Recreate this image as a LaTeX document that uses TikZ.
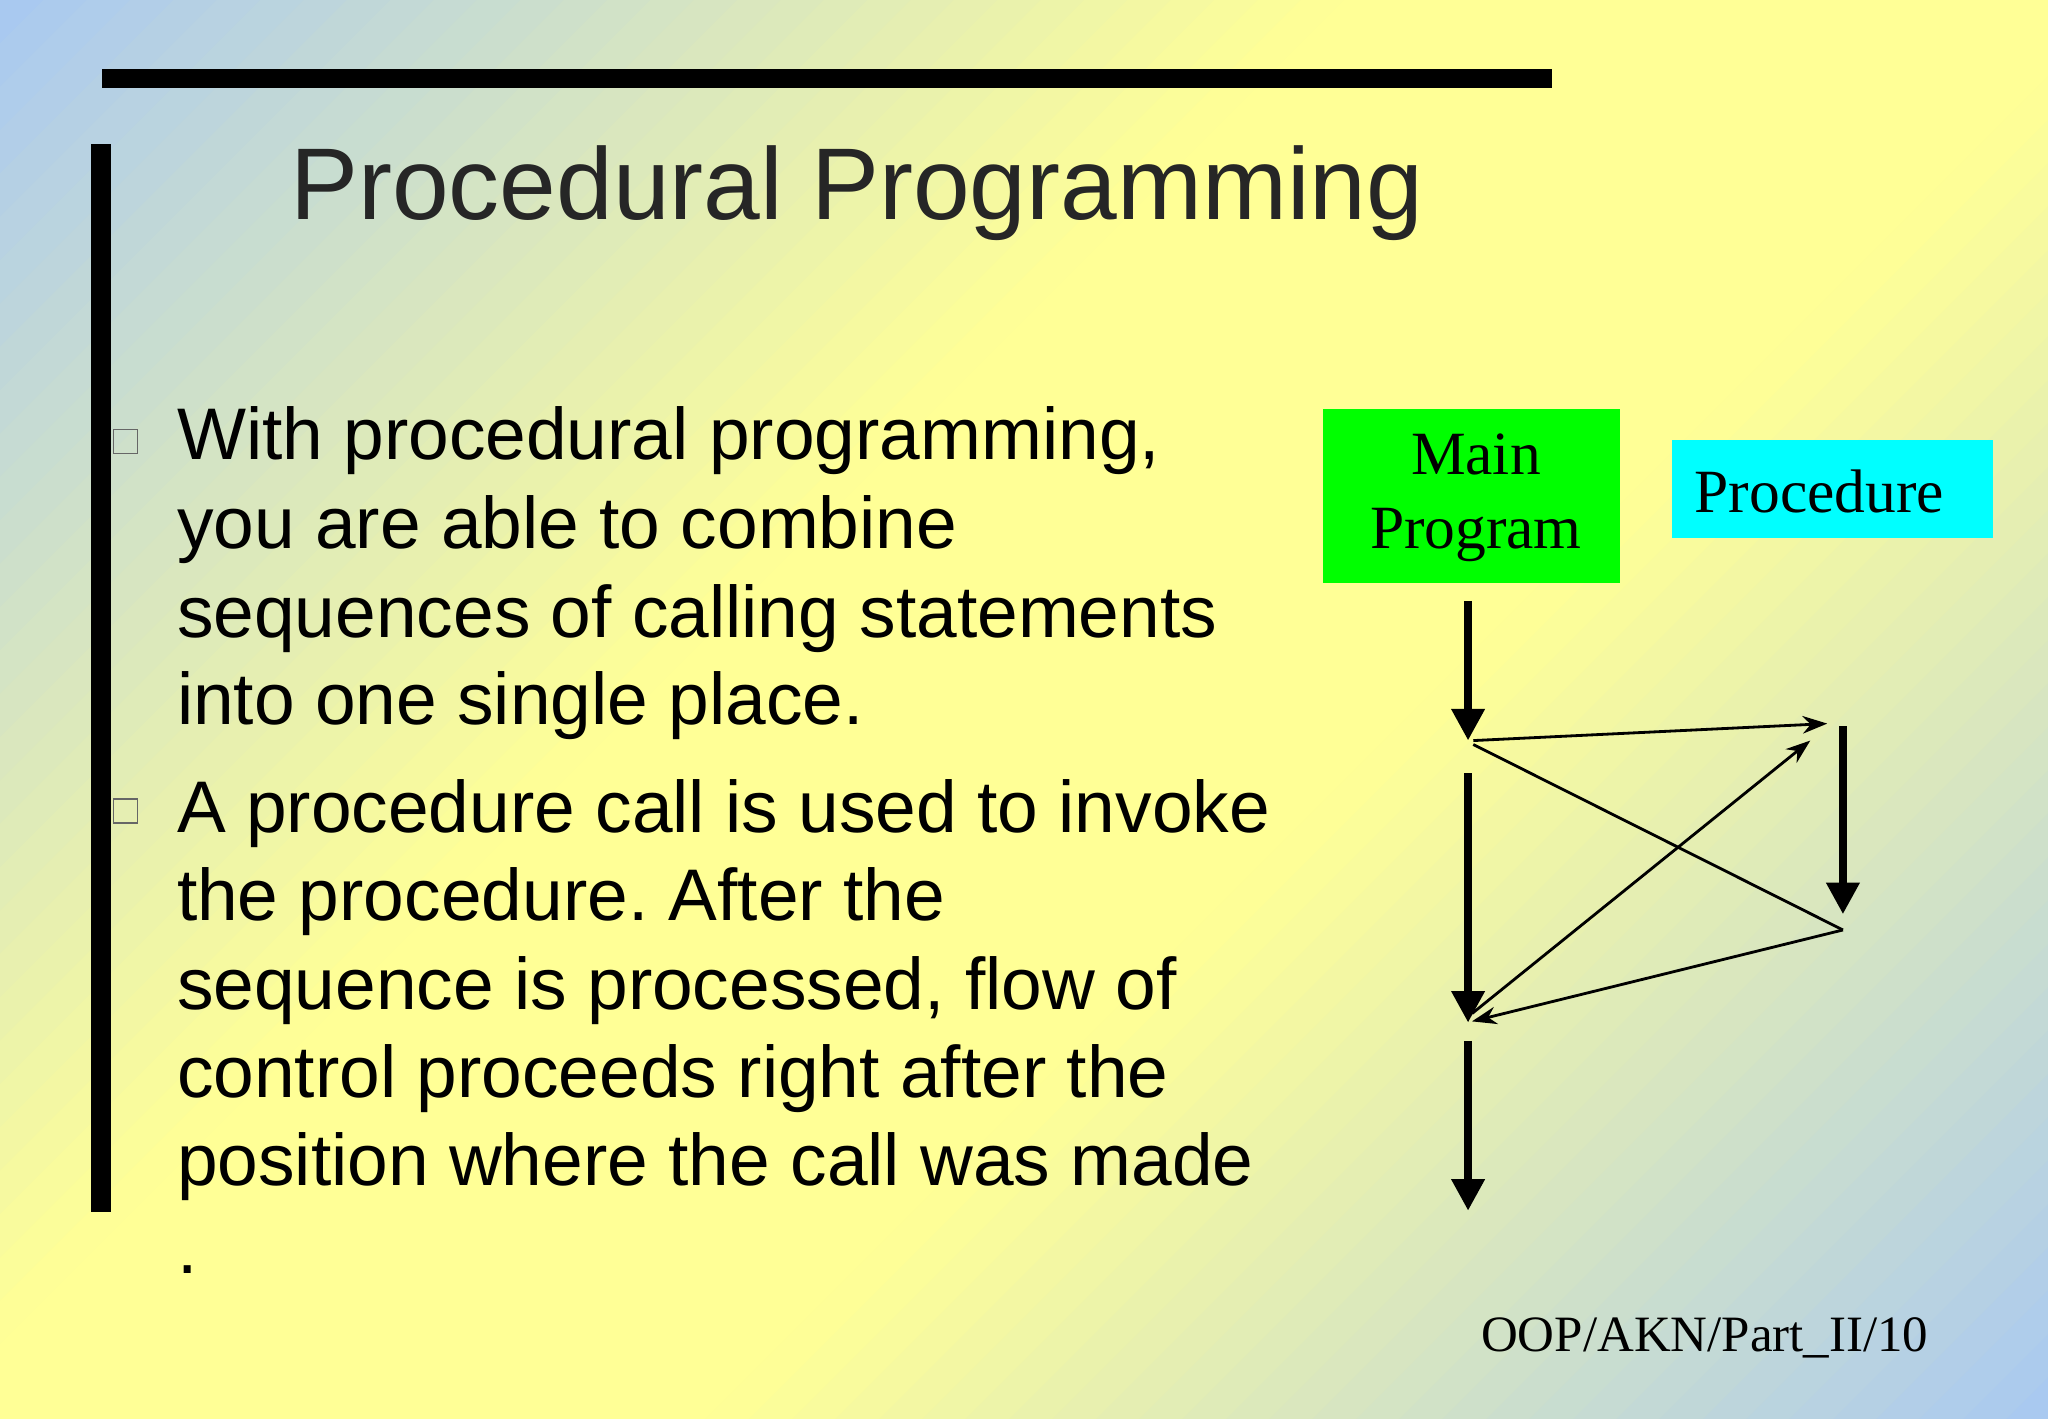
\documentclass[tikz,border=0pt]{standalone}
\usepackage{fontspec}
\setmainfont{Liberation Serif}
\setsansfont{Liberation Sans}
\usetikzlibrary{arrows.meta}
\frenchspacing

\definecolor{slideblue}{RGB}{168,200,242}
\definecolor{slideyellow}{RGB}{255,255,150}
\definecolor{boxgreen}{RGB}{0,255,0}
\definecolor{boxcyan}{RGB}{0,255,255}

\tikzset{
  bigarrow/.style={line width=2.3pt,-{Triangle[length=9pt,width=9pt]}},
  thinarrow/.style={line width=0.8pt,-{Stealth[length=7pt,width=5pt]}},
  bodyline/.style={anchor=base west,inner sep=0pt,font=\sffamily\fontsize{20.8}{24}\selectfont},
  boxlabel/.style={font=\fontsize{17.5}{20}\selectfont,align=center,inner sep=0pt},
  bulletbox/.style={draw=black!60,line width=0.4pt,minimum size=0.24cm,inner sep=0pt}
}

\begin{document}
\begin{tikzpicture}[x=0.013061cm,y=-0.013061cm]
            % Background in diagonal bands
            \useasboundingbox (0,0) rectangle (1568,1086);
            \begin{scope}
              \clip (0,0) rectangle (1568,1086);
              \foreach \i in {0,...,79}{
                \pgfmathsetmacro{\sa}{\i*33.2}
                \pgfmathsetmacro{\sb}{\sa+36}
                \pgfmathsetmacro{\mixp}{min(100,130*(1-abs(2*(\i+0.5)/80-1)))}
                \fill[slideyellow!\mixp!slideblue] (\sa,0) -- (\sb,0) -- (\sb-1200,1200) -- (\sa-1200,1200) -- cycle;
              }
            \end{scope}
            
            % Bars
            \fill[black] (78,53) rectangle (1188,67);
            \fill[black] (70,110) rectangle (85,928);
            
            % Title
            \node[font=\sffamily\fontsize{29}{33}\selectfont,text=black!85] (title) at (656,148) {Procedural Programming};
            
            % Bullets
            \node[bulletbox] (b1) at (96,338) {};
            \node[bulletbox] (b2) at (96,621) {};
            
            % Text lines
            \node[bodyline] (t1) at (135,352) {With procedural programming,};
            \node[bodyline] (t2) at (135,420) {you are able to combine};
            \node[bodyline] (t3) at (135,488) {sequences of calling statements};
            \node[bodyline] (t4) at (135,555) {into one single place.};
            \node[bodyline] (t5) at (135,637) {A procedure call is used to invoke};
            \node[bodyline] (t6) at (135,705) {the procedure. After the};
            \node[bodyline] (t7) at (135,773) {sequence is processed, flow of};
            \node[bodyline] (t8) at (135,840) {control proceeds right after the};
            \node[bodyline] (t9) at (135,908) {position where the call was made};
            \node[bodyline] (t10) at (135,975) {.};
            
            % Boxes
            \fill[boxgreen] (1013,313) rectangle (1240,446);
            \node[boxlabel] (main) at (1130,381) {Main\\[1pt] Program};
            \fill[boxcyan] (1280,337) rectangle (1526,412);
            \node[boxlabel] (proc) at (1393,376) {Procedure};
            
            % Flow points
            \coordinate (m1) at (1124,460);
            \coordinate (m2) at (1124,567);
            \coordinate (m3) at (1124,592);
            \coordinate (m4) at (1124,783);
            \coordinate (m5) at (1124,797);
            \coordinate (m6) at (1124,927);
            \coordinate (p1) at (1411,556);
            \coordinate (p2) at (1411,700);
            \coordinate (p3) at (1411,712);
            
            % Thick arrows
            \draw[bigarrow] (m1) -- (m2);
            \draw[bigarrow] (m3) -- (m4);
            \draw[bigarrow] (m5) -- (m6);
            \draw[bigarrow] (p1) -- (p2);
            
            % Thin arrows
            \draw[thinarrow] (1128,567) -- (1399,554);
            \draw[line width=0.8pt] (1128,570) -- (p3);
            \draw[thinarrow] (p3) -- (1127,782);
            \draw[thinarrow] (1127,776) -- (1386,567);
            
            % Footer
            \node[anchor=base east,inner sep=0pt,font=\fontsize{14.5}{16}\selectfont] (foot) at (1477,1035) {OOP/AKN/Part\_II/10};
        \end{tikzpicture}
\end{document}
